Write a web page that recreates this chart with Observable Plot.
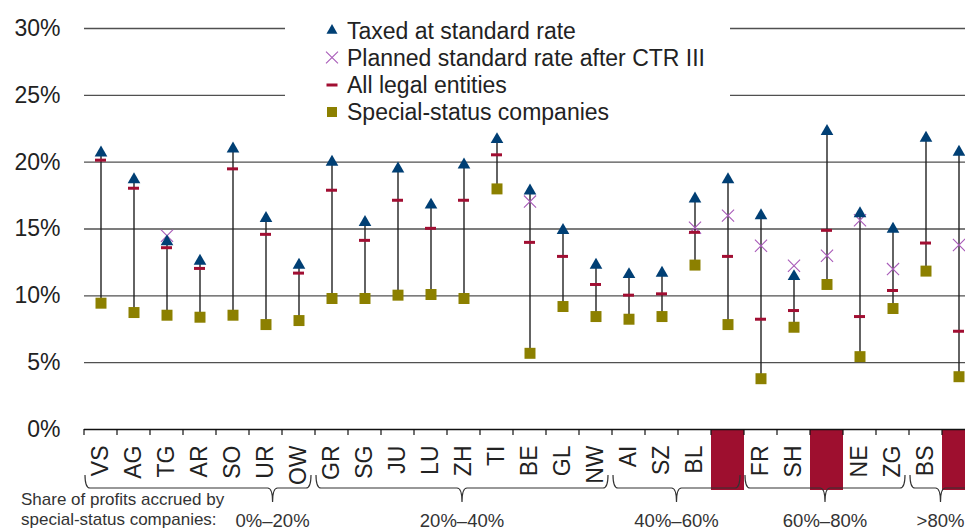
<!DOCTYPE html>
<html>
<head>
<meta charset="utf-8">
<script src="https://cdn.jsdelivr.net/npm/d3@7"></script>
<script src="https://cdn.jsdelivr.net/npm/@observablehq/plot@0.6"></script>
<style>
  html, body { margin: 0; padding: 0; background: #fff; overflow: hidden; }
  #chart { width: 965px; height: 531px; }
</style>
</head>
<body>
<div id="chart"></div>
<script>
// ---------- data ----------
const cantons = ["VS","AG","TG","AR","SO","UR","OW","GR","SG","JU","LU","ZH","TI","BE","GL","NW","AI","SZ","BL","_1","FR","SH","_2","NE","ZG","BS","_3"];
const highlighted = ["_1","_2","_3"];
const taxedStandard = [20.7,18.7,14.05,12.6,21.0,15.8,12.3,20.0,15.5,19.5,16.8,19.8,21.7,17.85,14.9,12.3,11.6,11.7,17.25,18.7,16.0,11.45,22.3,16.15,15.0,21.8,20.75];
const plannedCTR   = [null,null,14.5,null,null,null,null,null,null,null,null,null,null,17.05,null,null,null,null,15.1,16.0,13.75,12.25,13.0,15.65,12.0,null,13.8];
const allEntities  = [20.15,18.05,13.6,12.05,19.5,14.6,11.7,17.9,14.15,17.15,15.05,17.15,20.55,14.0,12.95,10.85,10.05,10.15,14.75,12.95,8.25,8.9,14.9,8.45,10.4,13.95,7.35];
const specialStatus= [9.45,8.75,8.55,8.4,8.55,7.85,8.15,9.8,9.8,10.05,10.1,9.8,18.0,5.7,9.2,8.45,8.25,8.45,12.3,7.85,3.8,7.65,10.85,5.45,9.05,11.85,3.95];
const yTicks = [0,5,10,15,20,25,30];
const groupLabels = ["0%–20%","20%–40%","40%–60%","60%–80%",">80%"];
const groupFirst  = ["VS","GR","AI","FR","BS"];
const groupLast   = ["OW","NW","_1","ZG","_3"];
const legendLabels = ["Taxed at standard rate","Planned standard rate after CTR III","All legal entities","Special-status companies"];
const captionLines = ["Share of profits accrued by","special-status companies:"];

// ---------- styles ----------
const C_TRI = "#003f74", C_X = "#a85ab8", C_DASH = "#a10e32", C_SQ = "#8c8000", C_RED = "#9e0f2f";
const FONT = "Liberation Sans, Arial, Helvetica, sans-serif";

const rows = cantons.map((c, i) => ({
  c, tri: taxedStandard[i], x: plannedCTR[i], dash: allEntities[i], sq: specialStatus[i]
}));

const plot = Plot.plot({
  width: 965,
  height: 531,
  marginLeft: 84,
  marginRight: -10,
  marginTop: 28,
  marginBottom: 102,
  style: { fontFamily: FONT, background: "#fff", color: "#222" },
  x: { domain: cantons, padding: 0, axis: null },
  y: { domain: [0, 30], axis: null },
  marks: [
    Plot.ruleY(yTicks.filter(d => d > 0), { stroke: "#505050", strokeWidth: 1.4 }),
    Plot.axisY(yTicks, { tickSize: 0, tickPadding: 24, fontSize: 23, fill: "#222", tickFormat: d => d + "%", label: null }),
    Plot.axisX({ tickSize: 0, tickPadding: 16, tickRotate: -90, fontSize: 23, fill: "#222",
                 tickFormat: d => d.startsWith("_") ? "" : d, label: null }),
    Plot.ruleX(rows, { x: "c", y1: "sq", y2: "tri", stroke: "#222", strokeWidth: 1.4 }),
    Plot.dot(rows.filter(d => d.x != null), { x: "c", y: "x", symbol: "times", r: 5.6, stroke: C_X, strokeWidth: 1.1 }),
    Plot.tickY(rows, { x: "c", y: "dash", stroke: C_DASH, strokeWidth: 3, insetLeft: 11, insetRight: 11 }),
    Plot.dot(rows, { x: "c", y: "tri", symbol: "triangle", r: 4.7, fill: C_TRI, stroke: null }),
    Plot.dot(rows, { x: "c", y: "sq", symbol: "square", r: 6.2, fill: C_SQ, stroke: null })
  ]
});
document.getElementById("chart").appendChild(plot);

// ---------- decorations via the plot's own scales ----------
const xs = plot.scale("x");
const ys = plot.scale("y");
const bw = xs.bandwidth;
const x0 = xs.apply(cantons[0]);
const xEnd = xs.apply(cantons[cantons.length - 1]) + bw;
const yZero = ys.apply(0);
const svg = d3.select(plot);
const deco = svg.append("g").attr("text-anchor", "start");

// highlighted (anonymised) columns below the axis
deco.selectAll("rect.hl").data(highlighted).join("rect")
  .attr("x", d => xs.apply(d)).attr("y", yZero).attr("width", bw).attr("height", 61)
  .attr("fill", C_RED);

// axis line and boundary ticks
deco.append("line").attr("x1", x0).attr("x2", xEnd).attr("y1", yZero + 0.5).attr("y2", yZero + 0.5)
  .attr("stroke", "#111").attr("stroke-width", 1.4);
deco.selectAll("line.tk").data(cantons).join("line")
  .attr("x1", d => xs.apply(d)).attr("x2", d => xs.apply(d))
  .attr("y1", yZero).attr("y2", yZero + 6).attr("stroke", "#111").attr("stroke-width", 1.2);

// group braces
const braceY = yZero + 59;
const anchorFrac = [0.83, 0.5, 0.5, 0.5, 0.5];
groupLabels.forEach((lab, i) => {
  const a = xs.apply(groupFirst[i]) + 1;
  const b = xs.apply(groupLast[i]) + bw - 4;
  const m = a + (b - a) * anchorFrac[i];
  const h = 13, dn = 14, r = 5, y0 = braceY;
  const p = `M${a},${y0 - h} Q${a},${y0} ${a + r},${y0} L${m - r},${y0} Q${m},${y0} ${m},${y0 + dn} Q${m},${y0} ${m + r},${y0} L${b - r},${y0} Q${b},${y0} ${b},${y0 - h}`;
  deco.append("path").attr("d", p).attr("fill", "none").attr("stroke", "#333").attr("stroke-width", 1.2);
  deco.append("text").attr("x", m).attr("y", 527).attr("text-anchor", "middle")
    .attr("font-size", 18.5).attr("fill", "#333").attr("font-family", FONT).text(lab);
});

// caption
captionLines.forEach((t, i) => {
  deco.append("text").attr("x", 21).attr("y", 505 + i * 20).attr("font-size", 17)
    .attr("text-anchor", "start").attr("fill", "#333").attr("font-family", FONT).text(t);
});

// legend
const leg = svg.append("g").attr("text-anchor", "start");
leg.append("rect").attr("x", 285).attr("y", 8).attr("width", 445).attr("height", 120).attr("fill", "#fff");
const rowY = [30.5, 57.5, 85, 112];
const mx = 332;
leg.append("path").attr("transform", `translate(${mx},${rowY[0]})`)
  .attr("d", d3.symbol(d3.symbolTriangle, Math.PI * 4.1 * 4.1)()).attr("fill", C_TRI);
leg.append("path").attr("transform", `translate(${mx},${rowY[1]})`)
  .attr("d", d3.symbol(d3.symbolTimes, Math.PI * 5.5 * 5.5)()).attr("fill", "none").attr("stroke", C_X).attr("stroke-width", 1.1);
leg.append("rect").attr("x", mx - 5.5).attr("y", rowY[2] - 1.5).attr("width", 11).attr("height", 3).attr("fill", C_DASH);
leg.append("rect").attr("x", mx - 5).attr("y", rowY[3] - 5).attr("width", 10).attr("height", 10).attr("fill", C_SQ);
legendLabels.forEach((t, i) => {
  leg.append("text").attr("x", 347).attr("y", rowY[i]).attr("dy", "0.36em")
    .attr("text-anchor", "start").attr("font-size", 23).attr("fill", "#222").attr("font-family", FONT).text(t);
});
</script>
</body>
</html>
